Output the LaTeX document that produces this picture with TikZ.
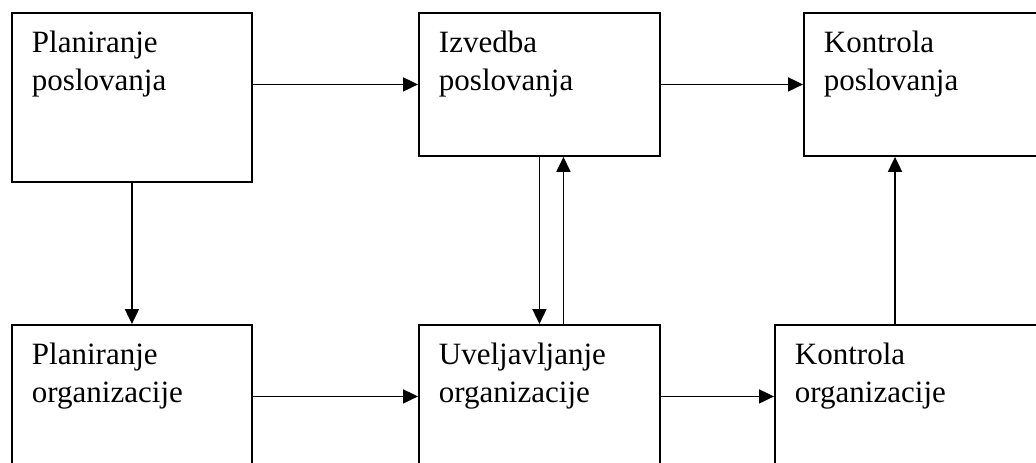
\documentclass[tikz,border=0pt]{standalone}
\usepackage{fontspec}
\setmainfont{Liberation Serif}
\usetikzlibrary{arrows.meta}

\begin{document}
\begin{tikzpicture}[x=1pt, y=-1pt, line width=1.9pt,
  blok/.style={draw, anchor=north west, align=left, inner xsep=20pt, inner ysep=0pt,
    text height=40pt, font=\fontsize{31}{38}\selectfont},
  >={Triangle[length=15pt,width=14pt]}]

  \useasboundingbox (0,0) rectangle (1036,463);
  \clip (0,0) rectangle (1036,463);

  % Boxes for the poslovanje row
  \node[blok, text width=200pt, text depth=129pt] (p1) at (11,12) {Planiranje\\poslovanja};
  \node[blok, text width=201pt, text depth=103pt] (p2) at (418,12) {Izvedba\\poslovanja};
  \node[blok, text width=202pt, text depth=103pt] (p3) at (803,12) {Kontrola\\poslovanja};

  % Boxes for the organizacija row
  \node[blok, text width=200pt, text depth=103pt] (o1) at (11,324) {Planiranje\\organizacije};
  \node[blok, text width=201pt, text depth=103pt] (o2) at (418,324) {Uveljavljanje\\organizacije};
  \node[blok, text width=231pt, text depth=103pt] (o3) at (774,324) {Kontrola\\organizacije};

  % Arrows between the boxes
  \draw[->] (p1.east |- p2.west) -- (p2.west);
  \draw[->] (p2) -- (p3);
  \draw[->] (p1) -- (o1);
  \draw[->] (o1) -- (o2);
  \draw[->] (o2) -- (o3);
  \draw[->] (p2) -- (o2);
  \draw[->] ([xshift=24pt]o2.north) -- ([xshift=24pt]p2.south);
  \draw[->] ([xshift=121pt]o3.north west) -- ([xshift=92pt]p3.south west);

\end{tikzpicture}
\end{document}
